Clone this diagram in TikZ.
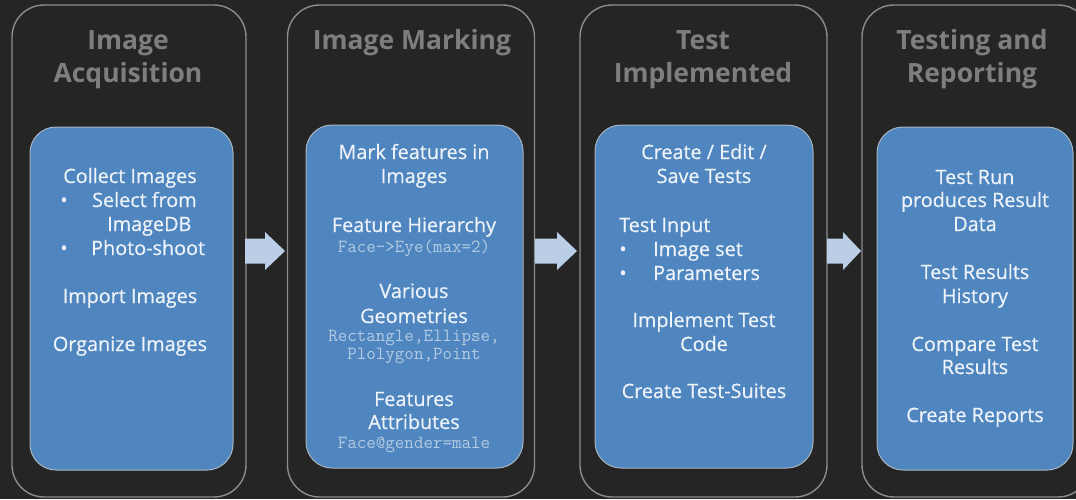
\documentclass[tikz,border=0pt]{standalone}
\usepackage{fontspec}
\setmainfont{Open Sans}
\newfontfamily\bodyf[FakeBold=0.5]{Open Sans}
\newfontfamily\monof{Latin Modern Mono}
\usetikzlibrary{calc}
\definecolor{bgc}{HTML}{252525}
\definecolor{outerline}{HTML}{8C8C8C}
\definecolor{innerfill}{HTML}{4F86BF}
\definecolor{innerline}{HTML}{A8B4C0}
\definecolor{titlec}{HTML}{7E7E7E}
\definecolor{bodyc}{HTML}{EEF3F9}
\definecolor{monoc}{HTML}{B4CBE3}
\definecolor{arrowc}{HTML}{BACEE6}
\tikzset{
  outerbox/.style={draw=outerline, line width=1.4pt, rounded corners=32pt, fill=bgc, inner sep=0pt},
  innerbox/.style={draw=innerline, line width=1pt, rounded corners=26pt, fill=innerfill, inner sep=0pt},
  titletxt/.style={anchor=base, text=titlec, font=\fontsize{26.5}{33}\selectfont\bfseries, inner sep=0pt},
  bodytxt/.style={anchor=base, text=bodyc, font=\bodyf\fontsize{19.8}{24}\selectfont, inner sep=0pt},
  bodyleft/.style={bodytxt, anchor=base west},
  monotxt/.style={anchor=base, text=monoc, font=\ttfamily\fontsize{18.5}{18}\selectfont, inner sep=0pt},
  blockarrow/.style={fill=arrowc}
}
\begin{document}
\begin{tikzpicture}[x=1pt,y=-1pt]
\fill[bgc] (0,0) rectangle (1076,499);
\useasboundingbox (0,0) rectangle (1076,499);
\clip (0,0) rectangle (1076,499);

% outer boxes
\node[outerbox, minimum width=234, minimum height=492] (o1) at (129,251) {};
\node[outerbox, minimum width=247, minimum height=492] (o2) at (411,251) {};
\node[outerbox, minimum width=247, minimum height=492] (o3) at (703.5,251) {};
\node[outerbox, minimum width=228, minimum height=492] (o4) at (976,251) {};

% inner boxes
\node[innerbox, minimum width=203, minimum height=343] (i1) at (131.5,298.5) {};
\node[innerbox, minimum width=217, minimum height=343] (i2) at (414.5,296.5) {};
\node[innerbox, minimum width=218, minimum height=343] (i3) at (704,296.5) {};
\node[innerbox, minimum width=196, minimum height=343] (i4) at (975,298.5) {};

% arrows
\coordinate (a1s) at (245,251); \coordinate (a1b) at (265,251); \coordinate (a1t) at (285,251);
\coordinate (a2s) at (535,251); \coordinate (a2b) at (557,251); \coordinate (a2t) at (577,251);
\coordinate (a3s) at (827,251); \coordinate (a3b) at (843,251); \coordinate (a3t) at (861,251);
\foreach \k in {1,2,3}{
  \fill[blockarrow] ($(a\k s)+(0,-12.5)$) -- ($(a\k b)+(0,-12.5)$) -- ($(a\k b)+(0,-19)$) -- (a\k t)
     -- ($(a\k b)+(0,19)$) -- ($(a\k b)+(0,12.5)$) -- ($(a\k s)+(0,12.5)$) -- cycle;
}

% titles
\node[titletxt] (t1a) at (128,49) {Image};
\node[titletxt] (t1b) at (128,82) {Acquisition};
\node[titletxt] (t2a) at (412,49) {Image Marking};
\node[titletxt] (t3a) at (703,49) {Test};
\node[titletxt] (t3b) at (703,82) {Implemented};
\node[titletxt] (t4a) at (972,49) {Testing and};
\node[titletxt] (t4b) at (972,82) {Reporting};

% box 1 text
\node[bodytxt] (b1a) at (130,183) {Collect Images};
\node[bodytxt] (b1b0) at (64,207) {•};
\node[bodyleft] (b1b) at (92,207) {Select from};
\node[bodyleft] (b1c) at (107,231) {ImageDB};
\node[bodytxt] (b1d0) at (64,255) {•};
\node[bodyleft] (b1d) at (91,255) {Photo-shoot};
\node[bodytxt] (b1e) at (130,303) {Import Images};
\node[bodytxt] (b1f) at (130,351) {Organize Images};

% box 2 text
\node[bodytxt] (b2a) at (414,159) {Mark features in};
\node[bodytxt] (b2b) at (414,183) {Images};
\node[bodytxt] (b2c) at (414,232) {Feature Hierarchy};
\node[monotxt] (b2d) at (414,252) {Face->Eye(max=2)};
\node[bodytxt] (b2e) at (414,298) {Various};
\node[bodytxt] (b2f) at (414,323) {Geometries};
\node[monotxt] (b2g) at (414,341) {Rectangle,Ellipse,};
\node[monotxt] (b2h) at (414,359) {Plolygon,Point};
\node[bodytxt] (b2i) at (414,406) {Features};
\node[bodytxt] (b2j) at (414,429) {Attributes};
\node[monotxt] (b2k) at (414,448) {Face@gender=male};

% box 3 text
\node[bodytxt] (b3a) at (704,159) {Create / Edit /};
\node[bodytxt] (b3b) at (704,183) {Save Tests};
\node[bodyleft] (b3c) at (619,232) {Test Input};
\node[bodytxt] (b3d0) at (623,256) {•};
\node[bodyleft] (b3d) at (653,256) {Image set};
\node[bodytxt] (b3e0) at (623,280) {•};
\node[bodyleft] (b3e) at (653,280) {Parameters};
\node[bodytxt] (b3f) at (704,327) {Implement Test};
\node[bodytxt] (b3g) at (704,351) {Code};
\node[bodytxt] (b3h) at (704,398) {Create Test-Suites};

% box 4 text
\node[bodytxt] (b4a) at (975,184) {Test Run};
\node[bodytxt] (b4b) at (975,207) {produces Result};
\node[bodytxt] (b4c) at (975,231) {Data};
\node[bodytxt] (b4d) at (975,279) {Test Results};
\node[bodytxt] (b4e) at (975,303) {History};
\node[bodytxt] (b4f) at (975,351) {Compare Test};
\node[bodytxt] (b4g) at (975,374) {Results};
\node[bodytxt] (b4h) at (975,422) {Create Reports};
\end{tikzpicture}
\end{document}
